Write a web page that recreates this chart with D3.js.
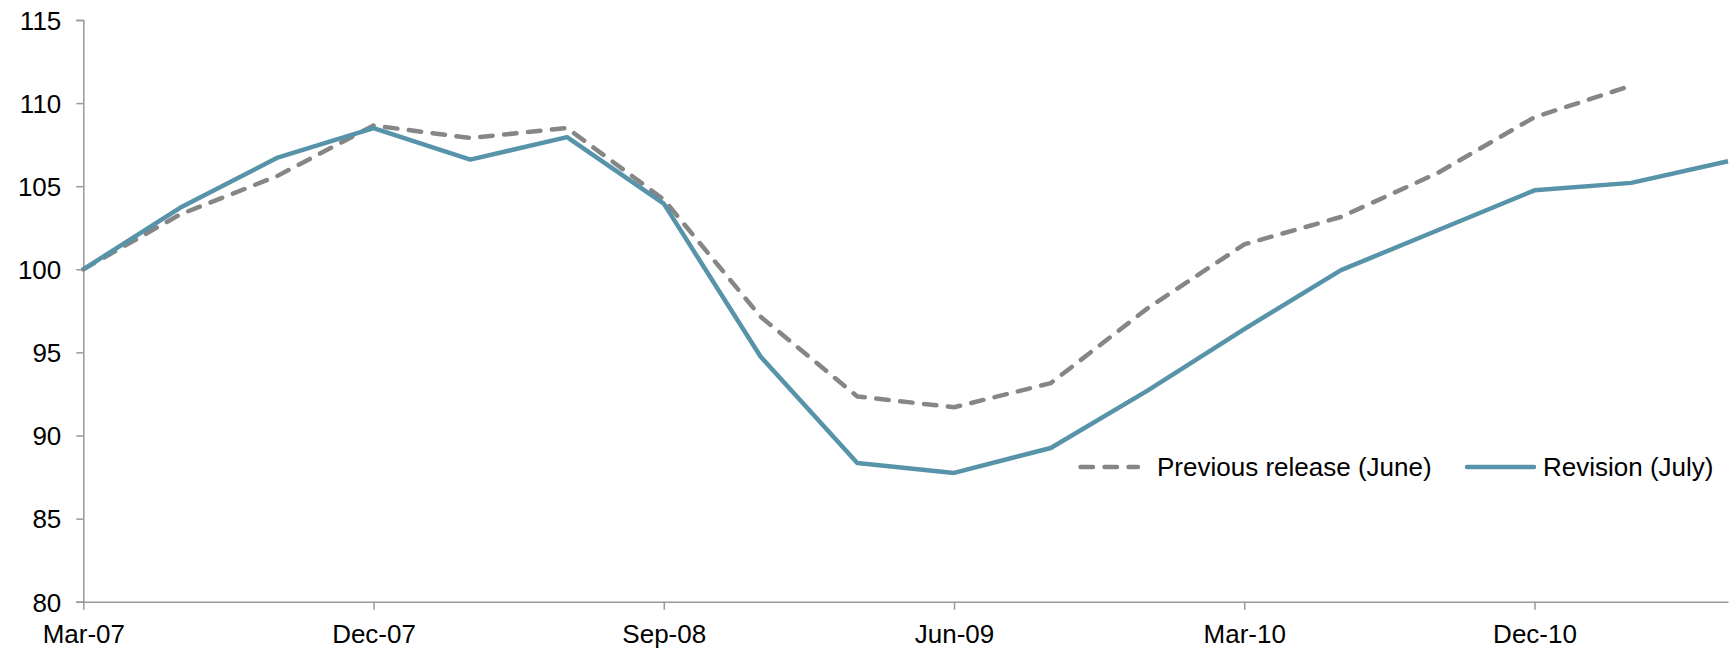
<!DOCTYPE html>
<html>
<head>
<meta charset="utf-8">
<script src="https://cdn.jsdelivr.net/npm/d3@7"></script>
<style>
  body { margin: 0; background: #fff; }
  text { font-family: "Liberation Sans", Arial, sans-serif; fill: #000; }
</style>
</head>
<body>
<div id="chart"></div>
<script>
const quarters = ["Mar-07", "Jun-07", "Sep-07", "Dec-07", "Mar-08", "Jun-08", "Sep-08", "Dec-08",
    "Mar-09", "Jun-09", "Sep-09", "Dec-09", "Mar-10", "Jun-10", "Sep-10", "Dec-10", "Mar-11", "Jun-11"];
const previousRelease = [100, 103.3, 105.6, 108.65, 107.9, 108.5, 104.2, 97.15, 92.35, 91.7,
    93.15, 97.65, 101.5, 103.15, 105.8, 109.15, 111.05, null];
const revision = [100, 103.7, 106.7, 108.5, 106.6, 107.95, 103.95, 94.75, 88.35, 87.75,
    89.25, 92.7, 96.4, 99.95, 102.35, 104.75, 105.2, 106.5];
const yTicks = [80, 85, 90, 95, 100, 105, 110, 115];
const xTickLabels = ["Mar-07", "Dec-07", "Sep-08", "Jun-09", "Mar-10", "Dec-10"];
const seriesNames = ["Previous release (June)", "Revision (July)"];

const width = 1732, height = 648;
const margin = {top: 20, right: 4, bottom: 46.3, left: 83.3};

const svg = d3.select("#chart").append("svg")
    .attr("width", width)
    .attr("height", height);

const x = d3.scalePoint()
    .domain(quarters)
    .range([margin.left, width - margin.right]);

const y = d3.scaleLinear()
    .domain([80, 115])
    .range([height - margin.bottom, margin.top]);

const axisColor = "#999";

// y axis
const yAxis = svg.append("g")
    .attr("transform", `translate(${margin.left},0)`)
    .call(d3.axisLeft(y).tickValues(yTicks).tickSize(7).tickPadding(15));
yAxis.select(".domain").attr("stroke", axisColor).attr("stroke-width", 1.5);
yAxis.selectAll(".tick line").attr("stroke", axisColor).attr("stroke-width", 1.5);
yAxis.selectAll("text").attr("font-size", 26).attr("dy", "0.36em")
    .style("font-family", '"Liberation Sans", Arial, sans-serif').attr("fill", "#000");

// x axis
const xAxis = svg.append("g")
    .attr("transform", `translate(0,${y(80)})`)
    .call(d3.axisBottom(x).tickValues(xTickLabels).tickSize(8).tickSizeOuter(0).tickPadding(15));
xAxis.select(".domain").attr("stroke", axisColor).attr("stroke-width", 1.5);
xAxis.selectAll(".tick line").attr("stroke", axisColor).attr("stroke-width", 1.5);
xAxis.selectAll("text").attr("font-size", 26)
    .style("font-family", '"Liberation Sans", Arial, sans-serif').attr("fill", "#000");

const line = d3.line()
    .defined(d => d.v != null)
    .x(d => x(d.q))
    .y(d => y(d.v));

const prevColor = "#868686", revColor = "#5793a9";

svg.append("path")
    .datum(quarters.map((q, i) => ({q: q, v: previousRelease[i]})))
    .attr("d", line)
    .attr("fill", "none")
    .attr("stroke", prevColor)
    .attr("stroke-width", 4.5)
    .attr("stroke-dasharray", "12.5,11.5")
    .attr("stroke-linecap", "round")
    .attr("stroke-linejoin", "round");

svg.append("path")
    .datum(quarters.map((q, i) => ({q: q, v: revision[i]})))
    .attr("d", line)
    .attr("fill", "none")
    .attr("stroke", revColor)
    .attr("stroke-width", 4.5)
    .attr("stroke-linejoin", "round");

// legend
const legend = svg.append("g").attr("transform", "translate(0,467)");

legend.append("line")
    .attr("x1", 1080.5).attr("x2", 1138)
    .attr("stroke", prevColor).attr("stroke-width", 4.5)
    .attr("stroke-dasharray", "12.5,11.5").attr("stroke-linecap", "round");
legend.append("text")
    .attr("x", 1157).attr("dy", "0.36em")
    .attr("font-size", 26)
    .text(seriesNames[0]);

legend.append("line")
    .attr("x1", 1467).attr("x2", 1534)
    .attr("stroke", revColor).attr("stroke-width", 4.5).attr("stroke-linecap", "round");
legend.append("text")
    .attr("x", 1543).attr("dy", "0.36em")
    .attr("font-size", 26)
    .text(seriesNames[1]);
</script>
</body>
</html>
